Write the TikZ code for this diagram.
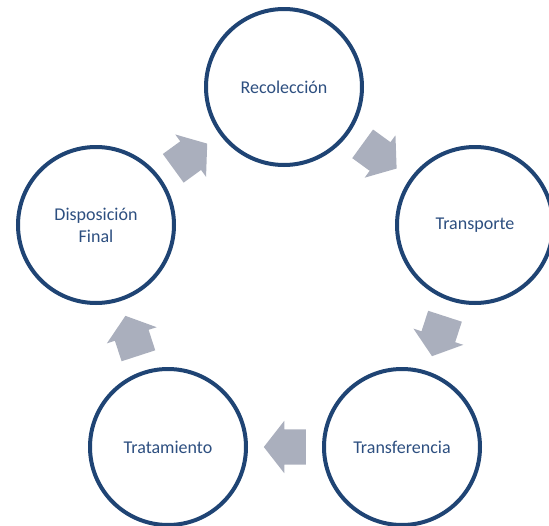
\documentclass[tikz,border=0pt]{standalone}
\usepackage{fontspec}
\setmainfont{Carlito}
\usepackage{tikz}
\usetikzlibrary{shapes,arrows,calc}

\definecolor{ringblue}{HTML}{1F4474}
\definecolor{labelblue}{HTML}{2D4F80}
\definecolor{arrowgray}{HTML}{AAAFBD}

\tikzset{
  stage/.style={circle, draw=ringblue, line width=4pt, fill=white,
    minimum size=156pt, inner sep=0pt, text=labelblue, align=center,
    font=\fontsize{18}{22}\selectfont},
  cyclearrow/.style={single arrow, fill=arrowgray, draw=none, anchor=tail,
    text height=17.5pt, text depth=17.5pt, text width=0pt,
    minimum height=42pt, single arrow head extend=8.5pt,
    single arrow tip angle=104, inner sep=0pt}
}

\begin{document}
\begin{tikzpicture}[x=1pt, y=-1pt]
    \useasboundingbox (0,0) rectangle (549,525);
    \clip (0,0) rectangle (549,525);

    % Five stages
    % ---------------------
    \node[stage] (rec) at (284,87) {Recolección};
    \node[stage] (tra) at (475,225) {Transporte};
    \node[stage] (tfr) at (402,447) {Transferencia};
    \node[stage] (trt) at (168,447) {Tratamiento};
    \node[stage] (dis) at (96,225) {Disposición\\Final};

    % Arrows between stages (tail sits 21pt before the midpoint)
    % ---------------------
    \node[cyclearrow, rotate=-36] (a1) at ($(rec)!0.5!(tra)!-21pt!(tra)$) {};
    \node[cyclearrow, rotate=-108] (a2) at ($(tra)!0.5!(tfr)!-21pt!(tfr)$) {};
    \node[cyclearrow, rotate=180] (a3) at ($(tfr)!0.5!(trt)!-21pt!(trt)$) {};
    \node[cyclearrow, rotate=108] (a4) at ($(trt)!0.5!(dis)!-21pt!(dis)$) {};
    \node[cyclearrow, rotate=36] (a5) at ($(dis)!0.5!(rec)!-21pt!(rec)$) {};
\end{tikzpicture}
\end{document}
